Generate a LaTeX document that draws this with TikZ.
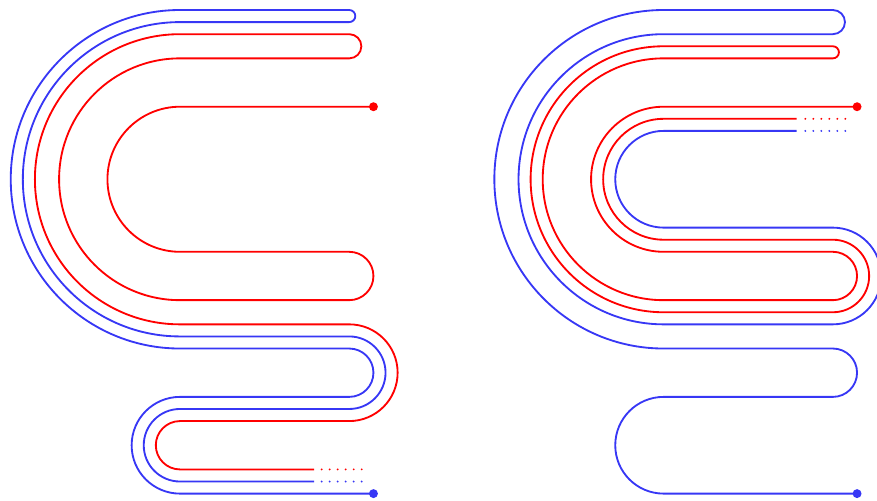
\documentclass[tikz,border=0pt]{standalone}
\definecolor{lblue}{RGB}{55,55,245}
\definecolor{lred}{RGB}{255,0,0}
\tikzset{
  wire/.style={line width=1.3pt, line join=round},
  bluewire/.style={wire, draw=lblue},
  redwire/.style={wire, draw=lred},
  enddot/.style={radius=0.37},
  dotfill/.style={radius=0.085}
}
\begin{document}
\begin{tikzpicture}[x=0.3cm,y=0.3cm]
\useasboundingbox (-14.888,0.827) rectangle (57.65,-40.53);
\clip (-14.888,0.827) rectangle (57.65,-40.53);
% ---------- left figure ----------
\begin{scope}
\draw[redwire] (16,-8) -- (0,-8) arc[start angle=90,end angle=270,radius=6]
  -- (14,-20) arc[start angle=90,end angle=-90,radius=2]
  -- (0,-24) arc[start angle=270,end angle=90,radius=10]
  -- (14,-4) arc[start angle=-90,end angle=90,radius=1]
  -- (0,-2) arc[start angle=90,end angle=270,radius=12]
  -- (14,-26) arc[start angle=90,end angle=-90,radius=4]
  -- (0,-34) arc[start angle=90,end angle=270,radius=2]
  -- (11.1,-38);
\draw[bluewire] (16,-40) -- (0,-40) arc[start angle=270,end angle=90,radius=4]
  -- (14,-32) arc[start angle=-90,end angle=90,radius=2]
  -- (0,-28) arc[start angle=270,end angle=90,radius=14]
  -- (14,0) arc[start angle=90,end angle=-90,radius=0.5]
  -- (0,-1) arc[start angle=90,end angle=270,radius=13]
  -- (14,-27) arc[start angle=90,end angle=-90,radius=3]
  -- (0,-33) arc[start angle=90,end angle=270,radius=3]
  -- (11.1,-39);
\fill[lred] (16,-8) circle[enddot];
\fill[lblue] (16,-40) circle[enddot];
\foreach \i in {0,...,5} {
  \fill[lred] (11.72+0.662*\i,-38) circle[dotfill];
  \fill[lblue] (11.72+0.662*\i,-39) circle[dotfill];
}
\end{scope}
% ---------- right figure ----------
\begin{scope}[shift={(40,0)}]
\draw[bluewire] (11,-10) -- (0,-10) arc[start angle=90,end angle=270,radius=4]
  -- (14,-18) arc[start angle=90,end angle=-90,radius=4]
  -- (0,-26) arc[start angle=270,end angle=90,radius=12]
  -- (14,-2) arc[start angle=-90,end angle=90,radius=1]
  -- (0,0) arc[start angle=90,end angle=270,radius=14]
  -- (14,-28) arc[start angle=90,end angle=-90,radius=2]
  -- (0,-32) arc[start angle=90,end angle=270,radius=4]
  -- (16,-40);
\draw[redwire] (16,-8) -- (0,-8) arc[start angle=90,end angle=270,radius=6]
  -- (14,-20) arc[start angle=90,end angle=-90,radius=2]
  -- (0,-24) arc[start angle=270,end angle=90,radius=10]
  -- (14,-4) arc[start angle=-90,end angle=90,radius=0.5]
  -- (0,-3) arc[start angle=90,end angle=270,radius=11]
  -- (14,-25) arc[start angle=-90,end angle=90,radius=3]
  -- (0,-19) arc[start angle=270,end angle=90,radius=5]
  -- (11,-9);
\fill[lred] (16,-8) circle[enddot];
\fill[lblue] (16,-40) circle[enddot];
\foreach \i in {0,...,5} {
  \fill[lred] (11.72+0.662*\i,-9) circle[dotfill];
  \fill[lblue] (11.72+0.662*\i,-10) circle[dotfill];
}
\end{scope}
\end{tikzpicture}
\end{document}
